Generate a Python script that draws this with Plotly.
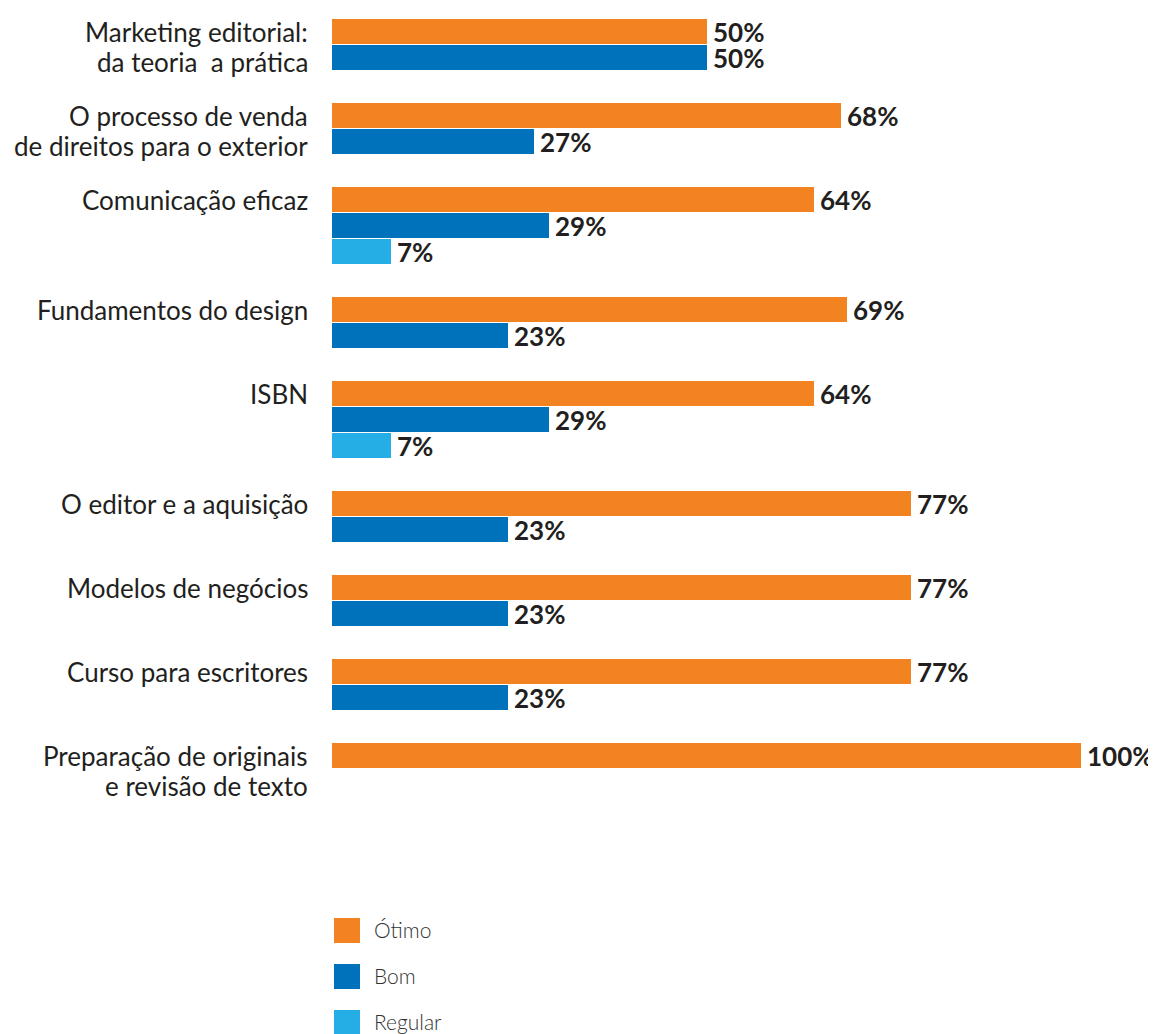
import plotly.graph_objects as go

# data
categories = [
    "Marketing editorial:<br>da teoria  a prática",
    "O processo de venda<br>de direitos para o exterior",
    "Comunicação eficaz",
    "Fundamentos do design",
    "ISBN",
    "O editor e a aquisição",
    "Modelos de negócios",
    "Curso para escritores",
    "Preparação de originais<br>e revisão de texto",
]
otimo = [50, 68, 64.4, 68.8, 64.4, 77.3, 77.3, 77.3, 100]
bom = [50, 27, 29, 23.5, 29, 23.5, 23.5, 23.5, None]
regular = [None, None, 7.9, None, 7.9, None, None, None, None]
otimo_txt = ["50%", "68%", "64%", "69%", "64%", "77%", "77%", "77%", "100%"]
bom_txt = ["50%", "27%", "29%", "23%", "29%", "23%", "23%", "23%", None]
regular_txt = [None, None, "7%", None, "7%", None, None, None, None]

series = [
    ("Ótimo", otimo, otimo_txt, "#F38221"),
    ("Bom", bom, bom_txt, "#0072BB"),
    ("Regular", regular, regular_txt, "#25AEE5"),
]

# page body has an 8px margin, so the figure is a bit smaller than the window
PAGE_PAD = 8
WIN_W, WIN_H = 1156, 1034
W, H = WIN_W - PAGE_PAD, WIN_H - PAGE_PAD

# y axis works in window pixels, top = 0
BAR_H = 25
STEP = 26
GROUP_GAP = 32
TOP = 19
LINE_GAP = 30
TEXT_COLOR = "#231F20"

fig = go.Figure()
annotations = []

# work out the row of every bar, group by group
rows = {name: ([], [], []) for name, _, _, _ in series}
y_top = TOP
for i, cat in enumerate(categories):
    n = 0
    for name, vals, txts, color in series:
        if vals[i] is None:
            continue
        yc = y_top + BAR_H / 2 + n * STEP
        rows[name][0].append(vals[i])
        rows[name][1].append(yc)
        rows[name][2].append(txts[i])
        n += 1
    first = y_top + BAR_H / 2
    for k, line in enumerate(cat.split("<br>")):
        annotations.append(dict(x=0, xref="paper", xanchor="right", xshift=-22,
                                y=first + k * LINE_GAP, yref="y", yanchor="middle",
                                text=line, showarrow=False,
                                font=dict(family="Lato", size=26, color=TEXT_COLOR)))
    y_top += n * STEP + GROUP_GAP

for name, vals, txts, color in series:
    xs, ys, ts = rows[name]
    fig.add_trace(go.Bar(x=xs, y=ys, orientation="h", width=BAR_H,
                         marker_color=color, marker_line_width=0,
                         name=name, showlegend=False, hoverinfo="skip"))
    for x, y, t in zip(xs, ys, ts):
        annotations.append(dict(x=x, xref="x", xanchor="left", xshift=4,
                                y=y, yref="y", yanchor="middle",
                                text=t, showarrow=False,
                                font=dict(family="Lato", size=26, color=TEXT_COLOR, weight=700)))

# hand made legend with big squares
shapes = []
legend_top = 918
for k, (name, _, _, color) in enumerate(series):
    y0 = legend_top + k * 46
    shapes.append(dict(type="rect", xref="paper", xsizemode="pixel", xanchor=0,
                       x0=2, x1=28, yref="y", y0=y0, y1=y0 + 25,
                       fillcolor=color, line_width=0))
    annotations.append(dict(x=0, xref="paper", xanchor="left", xshift=40,
                            y=y0 + 11, yref="y", yanchor="middle",
                            text=name, showarrow=False,
                            font=dict(family="Lato", size=21, color="#333333", weight=300)))

fig.update_layout(
    width=W, height=H,
    margin=dict(l=332 - PAGE_PAD, r=W - (1081 - PAGE_PAD), t=0, b=0),
    plot_bgcolor="white", paper_bgcolor="white",
    xaxis=dict(range=[0, 100], visible=False, fixedrange=True),
    yaxis=dict(range=[WIN_H, PAGE_PAD], visible=False, fixedrange=True),
    bargap=0,
    annotations=annotations,
    shapes=shapes,
)

fig.write_html("out.html", config={"displayModeBar": False})
